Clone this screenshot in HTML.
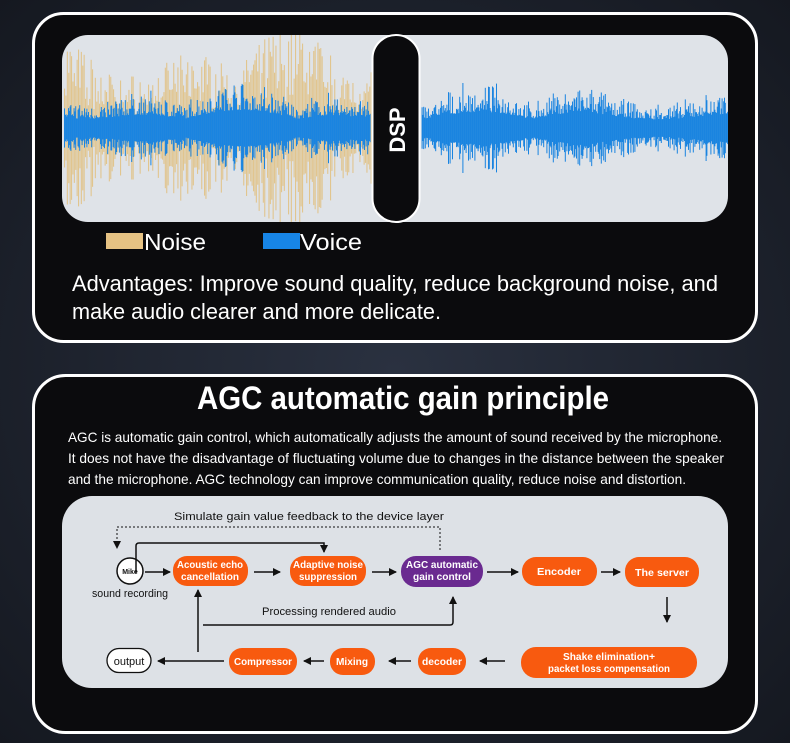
<!DOCTYPE html>
<html><head><meta charset="utf-8"><style>
html,body{margin:0;padding:0;background:#161a22;}
svg{display:block}
</style></head><body>
<svg id="s" width="790" height="743" viewBox="0 0 790 743" xmlns="http://www.w3.org/2000/svg" font-family="Liberation Sans, sans-serif">
<defs>
<radialGradient id="bg" cx="0.5" cy="0.5" r="0.8"><stop offset="0" stop-color="#2a3140"/><stop offset="1" stop-color="#12151c"/></radialGradient>
<marker id="ah" markerWidth="8" markerHeight="8" refX="7" refY="4" orient="auto" markerUnits="userSpaceOnUse"><path d="M0,0 L8,4 L0,8 Z" fill="#111"/></marker>
<clipPath id="wc"><rect x="62" y="35" width="666" height="187" rx="26"/></clipPath>
</defs>
<rect width="790" height="743" fill="url(#bg)"/>
<rect x="33.5" y="13.5" width="723" height="328" rx="30" fill="#0b0b0d" stroke="#fff" stroke-width="3"/>
<rect x="62" y="35" width="666" height="187" rx="26" fill="#dfe3e8"/>
<g id="wave" clip-path="url(#wc)"></g>
<rect x="372.5" y="35" width="47" height="187" rx="23.5" fill="#0b0b0d" stroke="#fff" stroke-width="2"/>
<text transform="translate(405,130) rotate(-90)" text-anchor="middle" font-size="22" font-weight="bold" fill="#fff">DSP</text>
<rect x="106" y="233" width="37" height="16" fill="#e6c283"/>
<text x="144" y="250" font-size="23" fill="#fff" textLength="62" lengthAdjust="spacingAndGlyphs">Noise</text>
<rect x="263" y="233" width="37" height="16" fill="#1785e6"/>
<text x="300" y="250" font-size="23" fill="#fff" textLength="62" lengthAdjust="spacingAndGlyphs">Voice</text>
<text x="72" y="291" font-size="22" fill="#fff" textLength="646" lengthAdjust="spacingAndGlyphs">Advantages: Improve sound quality, reduce background noise, and</text>
<text x="72" y="319" font-size="22" fill="#fff" textLength="369" lengthAdjust="spacingAndGlyphs">make audio clearer and more delicate.</text>
<rect x="33.5" y="375.5" width="723" height="357" rx="32" fill="#0b0b0d" stroke="#fff" stroke-width="3"/>
<text x="197" y="409" font-size="32" font-weight="bold" fill="#fff" textLength="412" lengthAdjust="spacingAndGlyphs">AGC automatic gain principle</text>
<text x="68" y="442" font-size="14" fill="#fff" textLength="654" lengthAdjust="spacingAndGlyphs">AGC is automatic gain control, which automatically adjusts the amount of sound received by the microphone.</text>
<text x="68" y="463" font-size="14" fill="#fff" textLength="656" lengthAdjust="spacingAndGlyphs">It does not have the disadvantage of fluctuating volume due to changes in the distance between the speaker</text>
<text x="68" y="484" font-size="14" fill="#fff" textLength="618" lengthAdjust="spacingAndGlyphs">and the microphone. AGC technology can improve communication quality, reduce noise and distortion.</text>
<rect x="62" y="496" width="666" height="192" rx="30" fill="#dde1e6"/>
<g font-size="11" fill="#111">
<text x="174" y="520" textLength="270" lengthAdjust="spacingAndGlyphs">Simulate gain value feedback to the device layer</text>
<text x="262" y="615" textLength="134" lengthAdjust="spacingAndGlyphs">Processing rendered audio</text>
<text x="92" y="597" textLength="76" lengthAdjust="spacingAndGlyphs">sound recording</text>
</g>
<path d="M440,550 V527 H117 V548" fill="none" stroke="#111" stroke-width="1" stroke-dasharray="2,2" marker-end="url(#ah)"/>
<circle cx="130" cy="571" r="13" fill="#fff" stroke="#111" stroke-width="1.5"/>
<text x="130" y="574" font-size="7" font-weight="bold" text-anchor="middle" fill="#111">Mike</text>
<g fill="none" stroke="#111" stroke-width="1.5">
<path d="M145,572 H170" marker-end="url(#ah)"/>
<path d="M136,573 V546 Q136,543 139,543 H324 V552" marker-end="url(#ah)"/>
<path d="M254,572 H280" marker-end="url(#ah)"/>
<path d="M372,572 H396" marker-end="url(#ah)"/>
<path d="M487,572 H518" marker-end="url(#ah)"/>
<path d="M601,572 H620" marker-end="url(#ah)"/>
<path d="M667,597 V622" marker-end="url(#ah)"/>
<path d="M505,661 H480" marker-end="url(#ah)"/>
<path d="M411,661 H389" marker-end="url(#ah)"/>
<path d="M324,661 H304" marker-end="url(#ah)"/>
<path d="M224,661 H158" marker-end="url(#ah)"/>
<path d="M198,652 V590" marker-end="url(#ah)"/>
<path d="M203,625 H450 Q453,625 453,622 V597" marker-end="url(#ah)"/>
</g>
<g fill="#f85a0f">
<rect x="173" y="556" width="75" height="30" rx="14"/>
<rect x="290" y="556" width="76" height="30" rx="14"/>
<rect x="522" y="557" width="75" height="29" rx="14"/>
<rect x="625" y="557" width="74" height="30" rx="14"/>
<rect x="521" y="647" width="176" height="31" rx="15"/>
<rect x="418" y="648" width="48" height="27" rx="13"/>
<rect x="330" y="648" width="45" height="27" rx="13"/>
<rect x="229" y="648" width="68" height="27" rx="13"/>
</g>
<rect x="401" y="556" width="82" height="31" rx="15" fill="#6a2a90"/>
<rect x="107" y="648.5" width="44" height="24" rx="12" fill="#fff" stroke="#111" stroke-width="1.3"/>
<g font-size="10.5" fill="#fff" font-weight="bold" text-anchor="middle">
<text x="210" y="568" textLength="66" lengthAdjust="spacingAndGlyphs">Acoustic echo</text><text x="210" y="580" textLength="58" lengthAdjust="spacingAndGlyphs">cancellation</text>
<text x="328" y="568" textLength="70" lengthAdjust="spacingAndGlyphs">Adaptive noise</text><text x="328" y="580" textLength="58" lengthAdjust="spacingAndGlyphs">suppression</text>
<text x="442" y="568" textLength="72" lengthAdjust="spacingAndGlyphs">AGC automatic</text><text x="442" y="580" textLength="58" lengthAdjust="spacingAndGlyphs">gain control</text>
<text x="559" y="575" textLength="44" lengthAdjust="spacingAndGlyphs">Encoder</text>
<text x="662" y="576" textLength="54" lengthAdjust="spacingAndGlyphs">The server</text>
<text x="609" y="660" textLength="92" lengthAdjust="spacingAndGlyphs">Shake elimination+</text><text x="609" y="672" textLength="122" lengthAdjust="spacingAndGlyphs">packet loss compensation</text>
<text x="442" y="665" textLength="40" lengthAdjust="spacingAndGlyphs">decoder</text>
<text x="352" y="665" textLength="32" lengthAdjust="spacingAndGlyphs">Mixing</text>
<text x="263" y="665" textLength="58" lengthAdjust="spacingAndGlyphs">Compressor</text>
</g>
<text x="129" y="665" font-size="11" text-anchor="middle" fill="#111">output</text>
</svg>
<script>
(function(){
var g=document.getElementById('wave');
var seed=7;function r(){seed=(seed*16807)%2147483647;return seed/2147483647;}
function env(x){return 0.5+0.5*Math.abs(Math.sin(x/37))*Math.abs(Math.cos(x/91));}
var out='';
for(var x=64;x<372;x+=1.4){var h=(45+60*r())*env(x);if(r()<0.4)h*=0.6;out+='<rect x="'+x.toFixed(1)+'" y="'+(128-h).toFixed(1)+'" width="1.1" height="'+(2*h).toFixed(1)+'" fill="#e2bf7e" opacity="0.85"/>';}
for(var x=64;x<728;x+=0.8){if(x>370&&x<421)continue;var h=(18+36*r()*r())*env(x+50);if(x>421)h*=0.95;out+='<rect x="'+x.toFixed(1)+'" y="'+(128-h).toFixed(1)+'" width="1" height="'+(2*h).toFixed(1)+'" fill="#1a84e0"/>';}
g.innerHTML=out;
})();
</script>
</body></html>
